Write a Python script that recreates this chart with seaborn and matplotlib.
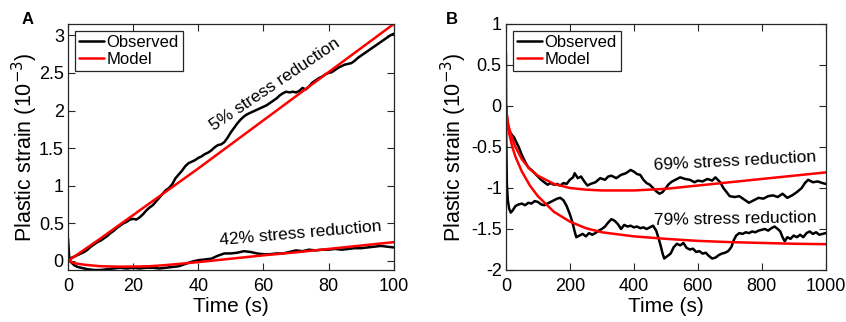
import numpy as np
import pandas as pd
import matplotlib
matplotlib.use("Agg")
import matplotlib.pyplot as plt
import seaborn as sns

# ---- Panel A data (time in s, strain in 1e-3) ----
t_a5_obs = [0, 0.4, 1, 2, 3, 4, 5, 6, 7, 8, 9, 10, 11, 12, 13, 14, 15, 16, 17, 18, 19, 20,
            21, 22, 23, 24, 25, 26, 27, 28, 29, 30, 31, 32, 33, 34, 35, 36, 37, 38, 39, 40,
            41, 42, 43, 44, 45, 46, 47, 48, 49, 50, 51, 52, 53, 54, 55, 56, 57, 58, 59, 60,
            61, 62, 63, 64, 65, 66, 67, 68, 69, 70, 71, 72, 73, 74, 75, 76, 77, 78, 79, 80,
            81, 82, 83, 84, 85, 86, 87, 88, 89, 90, 91, 92, 93, 94, 95, 96, 97, 98, 99, 100]
a5_obs = [0.30, 0.02, 0.04, 0.06, 0.08, 0.10, 0.12, 0.15, 0.19, 0.22, 0.25, 0.27, 0.30, 0.33, 0.37,
          0.40, 0.44, 0.47, 0.50, 0.52, 0.55, 0.56, 0.55, 0.58, 0.62, 0.67, 0.71, 0.74, 0.79, 0.84,
          0.89, 0.94, 0.97, 1.02, 1.10, 1.15, 1.20, 1.26, 1.30, 1.32, 1.34, 1.37, 1.39, 1.42, 1.44,
          1.47, 1.51, 1.54, 1.55, 1.58, 1.64, 1.71, 1.77, 1.83, 1.88, 1.92, 1.95, 1.97, 1.99, 2.01,
          2.03, 2.05, 2.07, 2.10, 2.13, 2.16, 2.20, 2.23, 2.25, 2.24, 2.25, 2.24, 2.26, 2.30, 2.28,
          2.32, 2.37, 2.40, 2.43, 2.45, 2.48, 2.50, 2.51, 2.54, 2.57, 2.59, 2.61, 2.62, 2.63, 2.66,
          2.70, 2.73, 2.76, 2.79, 2.82, 2.85, 2.88, 2.91, 2.94, 2.97, 3.00, 3.02]
t_a5_mod = [0, 10, 20, 30, 40, 50, 60, 70, 80, 90, 100]
a5_mod = [0.0, 0.30, 0.61, 0.92, 1.23, 1.55, 1.87, 2.19, 2.51, 2.83, 3.15]

t_a42_obs = [0.4, 1, 2, 3, 4, 5, 6, 8, 10, 12, 14, 16, 18, 20, 22, 24, 26, 28, 30, 32, 34, 36,
             38, 40, 42, 44, 46, 48, 50, 52, 54, 56, 58, 60, 62, 64, 66, 68, 70, 72, 74, 76,
             78, 80, 82, 84, 86, 88, 90, 92, 94, 96, 98, 100]
a42_obs = [0.02, -0.02, -0.06, -0.08, -0.09, -0.10, -0.11, -0.12, -0.12, -0.11, -0.10, -0.09,
           -0.10, -0.09, -0.10, -0.09, -0.09, -0.10, -0.09, -0.08, -0.07, -0.04, -0.01, 0.01,
           0.02, 0.03, 0.07, 0.10, 0.10, 0.11, 0.13, 0.12, 0.10, 0.09, 0.09, 0.10, 0.10, 0.12,
           0.14, 0.13, 0.15, 0.14, 0.15, 0.15, 0.16, 0.15, 0.16, 0.17, 0.17, 0.18, 0.19, 0.20,
           0.19, 0.18]
t_a42_mod = [0, 2, 5, 10, 15, 20, 25, 30, 40, 50, 60, 70, 80, 90, 100]
a42_mod = [0.0, -0.03, -0.05, -0.07, -0.075, -0.075, -0.07, -0.055, -0.015, 0.03, 0.075,
           0.115, 0.16, 0.205, 0.25]

# ---- Panel B data ----
t_b69_obs = [0, 5, 10, 15, 20, 25, 30, 40, 50, 60, 70, 80, 90, 100, 110, 120, 130, 140, 150,
             160, 170, 180, 190, 200, 210, 215, 225, 235, 245, 255, 265, 280, 295, 310, 320,
             330, 345, 360, 375, 390, 400, 410, 420, 430, 440, 450, 460, 470, 480, 490, 500,
             510, 520, 530, 545, 560, 575, 590, 600, 615, 630, 645, 655, 670, 680, 690, 700,
             715, 730, 745, 760, 775, 790, 805, 820, 835, 850, 865, 880, 895, 910, 925, 935,
             945, 960, 975, 990, 1000]
b69_obs = [0.0, -0.20, -0.30, -0.33, -0.36, -0.38, -0.42, -0.50, -0.60, -0.68, -0.75, -0.78,
           -0.82, -0.86, -0.90, -0.93, -0.96, -0.94, -0.96, -0.95, -0.97, -0.94, -0.95, -0.90,
           -0.87, -0.82, -0.88, -0.86, -0.92, -0.97, -0.95, -0.93, -0.88, -0.90, -0.86, -0.85,
           -0.88, -0.84, -0.82, -0.78, -0.80, -0.83, -0.84, -0.90, -0.94, -0.96, -1.00, -1.04,
           -1.07, -1.05, -1.00, -0.95, -0.92, -0.90, -0.87, -0.89, -0.90, -0.93, -0.91, -0.92,
           -0.89, -0.91, -0.87, -0.93, -1.00, -1.05, -1.10, -1.11, -1.10, -1.14, -1.18, -1.15,
           -1.12, -1.13, -1.10, -1.09, -1.11, -1.07, -1.12, -1.09, -1.05, -1.00, -0.94, -0.90,
           -0.93, -0.92, -0.94, -0.95]
t_b69_mod = [0, 5, 10, 20, 30, 50, 75, 100, 150, 200, 250, 300, 400, 500, 600, 700, 800,
             900, 1000]
b69_mod = [0.0, -0.18, -0.27, -0.40, -0.50, -0.65, -0.77, -0.85, -0.95, -1.00, -1.02, -1.03,
           -1.03, -1.01, -0.97, -0.93, -0.89, -0.85, -0.81]

t_b79_obs = [0, 1, 3, 6, 10, 15, 20, 25, 30, 40, 50, 60, 70, 80, 90, 100, 110, 120, 130, 140,
             150, 160, 170, 180, 190, 200, 205, 210, 215, 220, 230, 240, 250, 260, 270, 280,
             290, 300, 310, 320, 330, 340, 350, 360, 370, 380, 390, 400, 410, 420, 430, 440,
             450, 460, 470, 478, 485, 490, 495, 505, 515, 525, 535, 545, 555, 565, 575, 585,
             595, 605, 615, 625, 635, 645, 655, 665, 675, 685, 695, 705, 712, 720, 730, 740,
             750, 760, 770, 780, 790, 800, 810, 820, 830, 840, 850, 858, 865, 872, 880, 890,
             900, 910, 920, 930, 940, 950, 960, 970, 980, 990, 1000]
b79_obs = [0.65, -0.40, -0.95, -1.15, -1.25, -1.30, -1.28, -1.25, -1.22, -1.20, -1.19, -1.21,
           -1.18, -1.19, -1.16, -1.17, -1.20, -1.21, -1.19, -1.17, -1.15, -1.13, -1.12, -1.15,
           -1.22, -1.32, -1.38, -1.45, -1.53, -1.60, -1.58, -1.56, -1.59, -1.55, -1.57, -1.55,
           -1.52, -1.50, -1.47, -1.42, -1.38, -1.40, -1.44, -1.50, -1.45, -1.47, -1.46, -1.48,
           -1.47, -1.49, -1.48, -1.50, -1.48, -1.46, -1.52, -1.62, -1.72, -1.80, -1.86, -1.83,
           -1.80, -1.72, -1.68, -1.70, -1.67, -1.73, -1.75, -1.74, -1.78, -1.77, -1.80, -1.79,
           -1.83, -1.86, -1.85, -1.82, -1.80, -1.79, -1.77, -1.72, -1.64, -1.58, -1.55, -1.56,
           -1.54, -1.55, -1.53, -1.54, -1.52, -1.51, -1.50, -1.52, -1.49, -1.47, -1.50, -1.53,
           -1.60, -1.65, -1.60, -1.62, -1.58, -1.60, -1.57, -1.60, -1.55, -1.53, -1.56, -1.54,
           -1.57, -1.56, -1.55]
t_b79_mod = [0, 5, 10, 20, 30, 50, 75, 100, 150, 200, 250, 300, 400, 500, 600, 700, 800,
             900, 1000]
b79_mod = [0.0, -0.22, -0.33, -0.50, -0.62, -0.80, -0.97, -1.10, -1.29, -1.41, -1.49, -1.54,
           -1.59, -1.62, -1.645, -1.66, -1.67, -1.68, -1.685]


def make_df(t, y, kind, label):
    return pd.DataFrame({"time": t, "strain": y, "kind": kind, "curve": label})


sns.set_theme(style="ticks")
plt.rcParams["font.family"] = ["Liberation Sans", "DejaVu Sans"]
plt.rcParams["axes.unicode_minus"] = False
plt.rcParams["xtick.direction"] = "in"
plt.rcParams["ytick.direction"] = "in"
plt.rcParams["text.color"] = "black"
plt.rcParams["axes.labelcolor"] = "black"

palette = {"Observed": "black", "Model": "#ff0000"}

fig = plt.figure(figsize=(8.46, 3.22), dpi=100)
ax_a = fig.add_axes([0.0804, 0.1615, 0.385, 0.764])
ax_b = fig.add_axes([0.598, 0.1615, 0.378, 0.764])

df_a = pd.concat([
    make_df(t_a5_obs, a5_obs, "Observed", "5"),
    make_df(t_a42_obs, a42_obs, "Observed", "42"),
    make_df(t_a5_mod, a5_mod, "Model", "5"),
    make_df(t_a42_mod, a42_mod, "Model", "42"),
])
df_b = pd.concat([
    make_df(t_b69_obs, b69_obs, "Observed", "69"),
    make_df(t_b79_obs, b79_obs, "Observed", "79"),
    make_df(t_b69_mod, b69_mod, "Model", "69"),
    make_df(t_b79_mod, b79_mod, "Model", "79"),
])

for ax, df in [(ax_a, df_a), (ax_b, df_b)]:
    sns.lineplot(data=df, x="time", y="strain", hue="kind", units="curve",
                 estimator=None, sort=False, palette=palette, linewidth=1.8,
                 hue_order=["Observed", "Model"], ax=ax)
    for sp in ax.spines.values():
        sp.set_linewidth(0.9)
        sp.set_color("#262626")
    ax.tick_params(axis="both", which="both", top=True, right=True, length=5,
                   width=0.8, labelsize=13, colors="#262626", labelcolor="black")
    ax.tick_params(axis="x", pad=6)
    ax.tick_params(axis="y", pad=3)
    ax.set_xlabel("Time (s)", fontsize=15, labelpad=1)
    ax.set_ylabel("Plastic strain (10$^{-3}$)", fontsize=15.5, labelpad=1)
    leg = ax.legend(loc="upper left", fontsize=12, frameon=True, fancybox=False,
                    edgecolor="#262626", framealpha=1, handlelength=1.5, handletextpad=0.15,
                    borderpad=0.25, labelspacing=0.15, borderaxespad=0.4)
    leg.get_frame().set_linewidth(0.9)

ax_a.yaxis.labelpad = -1

ax_a.set_xlim(0, 100)
ax_a.set_ylim(-0.12, 3.15)
ax_a.set_xticks([0, 20, 40, 60, 80, 100])
ax_a.set_yticks([0, 0.5, 1, 1.5, 2, 2.5, 3])
ax_a.set_yticklabels(["0", "0.5", "1", "1.5", "2", "2.5", "3"])

ax_b.set_xlim(0, 1000)
ax_b.set_ylim(-2, 1)
ax_b.set_xticks([0, 200, 400, 600, 800, 1000])
ax_b.set_yticks([-2, -1.5, -1, -0.5, 0, 0.5, 1])
ax_b.set_yticklabels(["-2", "-1.5", "-1", "-0.5", "0", "0.5", "1"])

ax_a.text(63.5, 2.34, "5% stress reduction", rotation=34, fontsize=12.5,
          ha="center", va="center", rotation_mode="anchor")
ax_a.text(71.5, 0.36, "42% stress reduction", rotation=5, fontsize=12.5,
          ha="center", va="center", rotation_mode="anchor")
ax_b.text(717, -0.67, "69% stress reduction", rotation=3, fontsize=12.5,
          ha="center", va="center", rotation_mode="anchor")
ax_b.text(717, -1.38, "79% stress reduction", rotation=1, fontsize=12.5,
          ha="center", va="center", rotation_mode="anchor")

fig.text(22 / 846, 1 - 20 / 322, "A", fontsize=12, fontweight="bold", ha="left", va="center")
fig.text(446 / 846, 1 - 20 / 322, "B", fontsize=12, fontweight="bold", ha="left", va="center")

fig.savefig("out.png", dpi=100)
